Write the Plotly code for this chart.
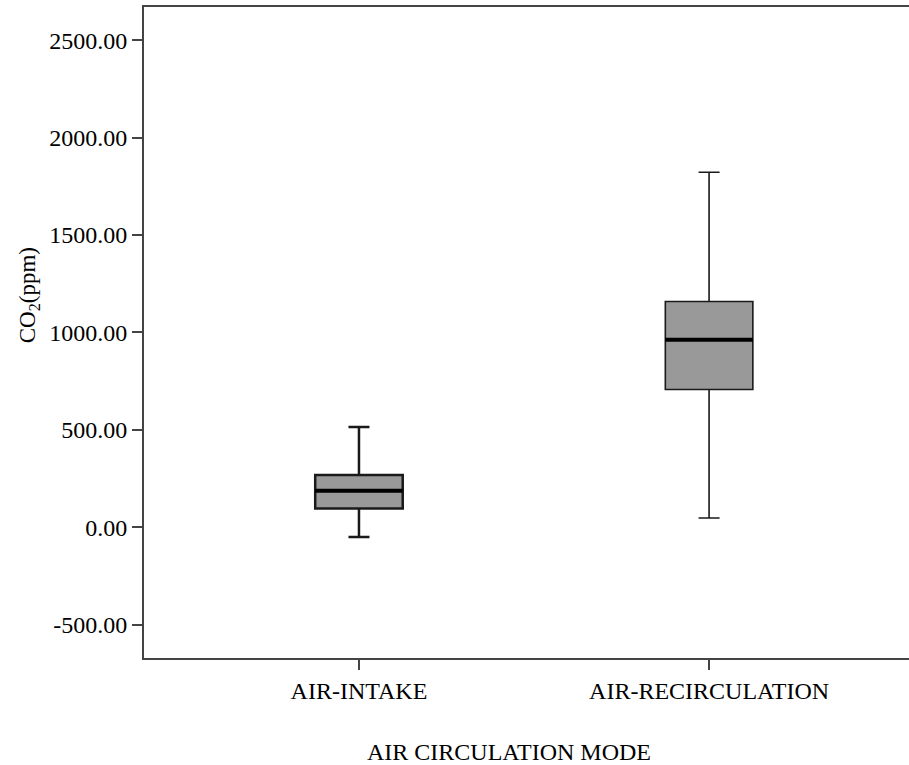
import plotly.graph_objects as go

categories = ["AIR-INTAKE", "AIR-RECIRCULATION"]
positions = [0, 1]
lower_whisker = [-51, 47]
q1_values = [96, 706]
median_values = [186, 962]
q3_values = [267, 1158]
upper_whisker = [514, 1822]
y_tickvals = [-500, 0, 500, 1000, 1500, 2000, 2500]
y_ticktext = ["-500.00", "0.00", "500.00", "1000.00", "1500.00", "2000.00", "2500.00"]

BOX_W = 0.25
FONT = "Liberation Serif"
FS = 24

fig = go.Figure()
line_widths = [2.5, 1.6]
for i in range(len(categories)):
    fig.add_trace(go.Box(
        x=[positions[i]],
        q1=[q1_values[i]], median=[median_values[i]], q3=[q3_values[i]],
        lowerfence=[lower_whisker[i]], upperfence=[upper_whisker[i]],
        width=BOX_W, whiskerwidth=0.24,
        fillcolor="#999999",
        line=dict(color="#1a1a1a", width=line_widths[i]),
        boxpoints=False, showlegend=False, hoverinfo="skip",
    ))
    fig.add_trace(go.Scatter(
        x=[positions[i] - BOX_W / 2, positions[i] + BOX_W / 2],
        y=[median_values[i], median_values[i]],
        mode="lines", line=dict(color="black", width=4),
        showlegend=False, hoverinfo="skip",
    ))

fig.update_layout(
    width=909, height=765,
    margin=dict(l=144, r=0, t=7, b=107),
    paper_bgcolor="white", plot_bgcolor="white",
    font=dict(family=FONT, size=FS, color="black"),
    xaxis=dict(
        range=[-0.614, 1.571], tickvals=positions, ticktext=categories,
        showgrid=False, zeroline=False, showline=True, linecolor="#444444",
        linewidth=2, mirror=True, ticks="outside", ticklen=10, tickwidth=2,
        tickcolor="#444444", tickfont=dict(family=FONT, size=FS, color="black"),
    ),
    yaxis=dict(
        range=[-672, 2670], tickvals=y_tickvals, ticktext=y_ticktext,
        showgrid=False, zeroline=False, showline=True, linecolor="#444444",
        linewidth=2, ticks="outside", ticklen=10, tickwidth=2,
        tickcolor="#444444", tickfont=dict(family=FONT, size=FS, color="black"),
    ),
    annotations=[
        dict(text="AIR CIRCULATION MODE", xref="paper", yref="paper",
             x=0.477, y=-0.1444, xanchor="center", yanchor="middle",
             showarrow=False, font=dict(family=FONT, size=FS, color="black")),
        dict(text="CO<sub>2</sub>(ppm)", xref="paper", yref="paper",
             x=-0.150, y=0.5576, xanchor="center", yanchor="middle",
             textangle=-90, showarrow=False,
             font=dict(family=FONT, size=FS - 1, color="black")),
    ],
)

fig.write_html("out.html")
